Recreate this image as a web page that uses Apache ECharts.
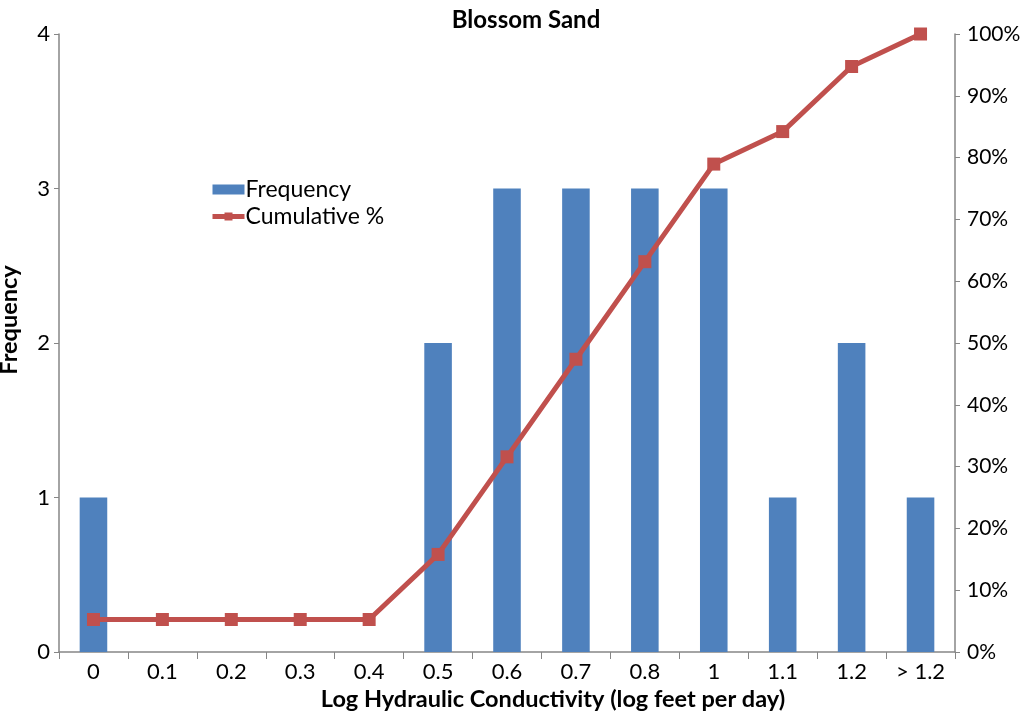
<!DOCTYPE html>
<html><head><meta charset="utf-8">
<script src="https://cdn.jsdelivr.net/npm/echarts@6/dist/echarts.min.js"></script>
<style>html,body{margin:0;padding:0;background:#fff}#c{width:1029px;height:715px}</style>
</head><body><div id="c"></div>
<script>
const categories = ['0','0.1','0.2','0.3','0.4','0.5','0.6','0.7','0.8','1','1.1','1.2','> 1.2'];
const frequency = [1,0,0,0,0,2,3,3,3,3,1,2,1];
const cumulativePct = [5.26,5.26,5.26,5.26,5.26,15.79,31.58,47.37,63.16,78.95,84.21,94.74,100];
const leftTicks = [0,1,2,3,4];
const rightTicks = [0,10,20,30,40,50,60,70,80,90,100];

const FONT = 'Lato, "Open Sans", sans-serif';
const axisCol = '#868686';
const chart = echarts.init(document.getElementById('c'), null, {renderer:'canvas'});
chart.setOption({
  animation:false,
  backgroundColor:'#fff',
  title:{text:'Blossom Sand', left:521, top:3, textAlign:'center',
    textStyle:{fontFamily:FONT, fontWeight:'bold', fontSize:24, color:'#000'}},
  legend:{orient:'vertical', left:205, top:173, itemGap:4, itemWidth:32, itemHeight:10,
    textStyle:{fontFamily:FONT, fontSize:23, color:'#000', padding:[0,0,0,-4]},
    data:[{name:'Frequency', icon:'rect', itemStyle:{color:'#4F81BD'}},
          {name:'Cumulative %', lineStyle:{width:5, color:'#C0504D'}, itemStyle:{color:'#C0504D'}}]},
  grid:{left:59, right:74, top:34, bottom:63, containLabel:false, outerBoundsMode:'none'},
  xAxis:{type:'category', data:categories,
    name:'Log Hydraulic Conductivity (log feet per day)', nameLocation:'middle', nameGap:34,
    nameTextStyle:{fontFamily:FONT, fontWeight:'bold', fontSize:23.5, color:'#000', padding:[0,0,0,92]},
    axisLine:{lineStyle:{color:axisCol, width:1.5}},
    axisTick:{show:true, alignWithLabel:false, length:7, lineStyle:{color:axisCol}},
    axisLabel:{fontFamily:FONT, fontSize:22, color:'#000', margin:9, interval:0}},
  yAxis:[
    {type:'value', min:leftTicks[0], max:leftTicks[leftTicks.length-1], interval:1,
      name:'Frequency', nameLocation:'middle', nameGap:38, nameRotate:90,
      nameTextStyle:{fontFamily:FONT, fontWeight:'bold', fontSize:23.5, color:'#000', padding:[0,0,0,46]},
      axisLine:{show:true, lineStyle:{color:axisCol, width:1.5}},
      axisTick:{show:true, length:5, lineStyle:{color:axisCol}},
      splitLine:{show:false},
      axisLabel:{fontFamily:FONT, fontSize:22, color:'#000', margin:9}},
    {type:'value', min:rightTicks[0], max:rightTicks[rightTicks.length-1], interval:10, position:'right',
      axisLine:{show:true, lineStyle:{color:axisCol, width:1.5}},
      axisTick:{show:true, length:5, lineStyle:{color:axisCol}},
      splitLine:{show:false},
      axisLabel:{fontFamily:FONT, fontSize:21, color:'#000', margin:12, formatter:'{value}%'}}
  ],
  series:[
    {name:'Frequency', type:'bar', data:frequency, barWidth:'40%', itemStyle:{color:'#4F81BD'}, yAxisIndex:0},
    {name:'Cumulative %', type:'line', data:cumulativePct, yAxisIndex:1, symbol:'rect', symbolSize:13,
      lineStyle:{color:'#C0504D', width:5}, itemStyle:{color:'#C0504D'}}
  ]
});
</script></body></html>
